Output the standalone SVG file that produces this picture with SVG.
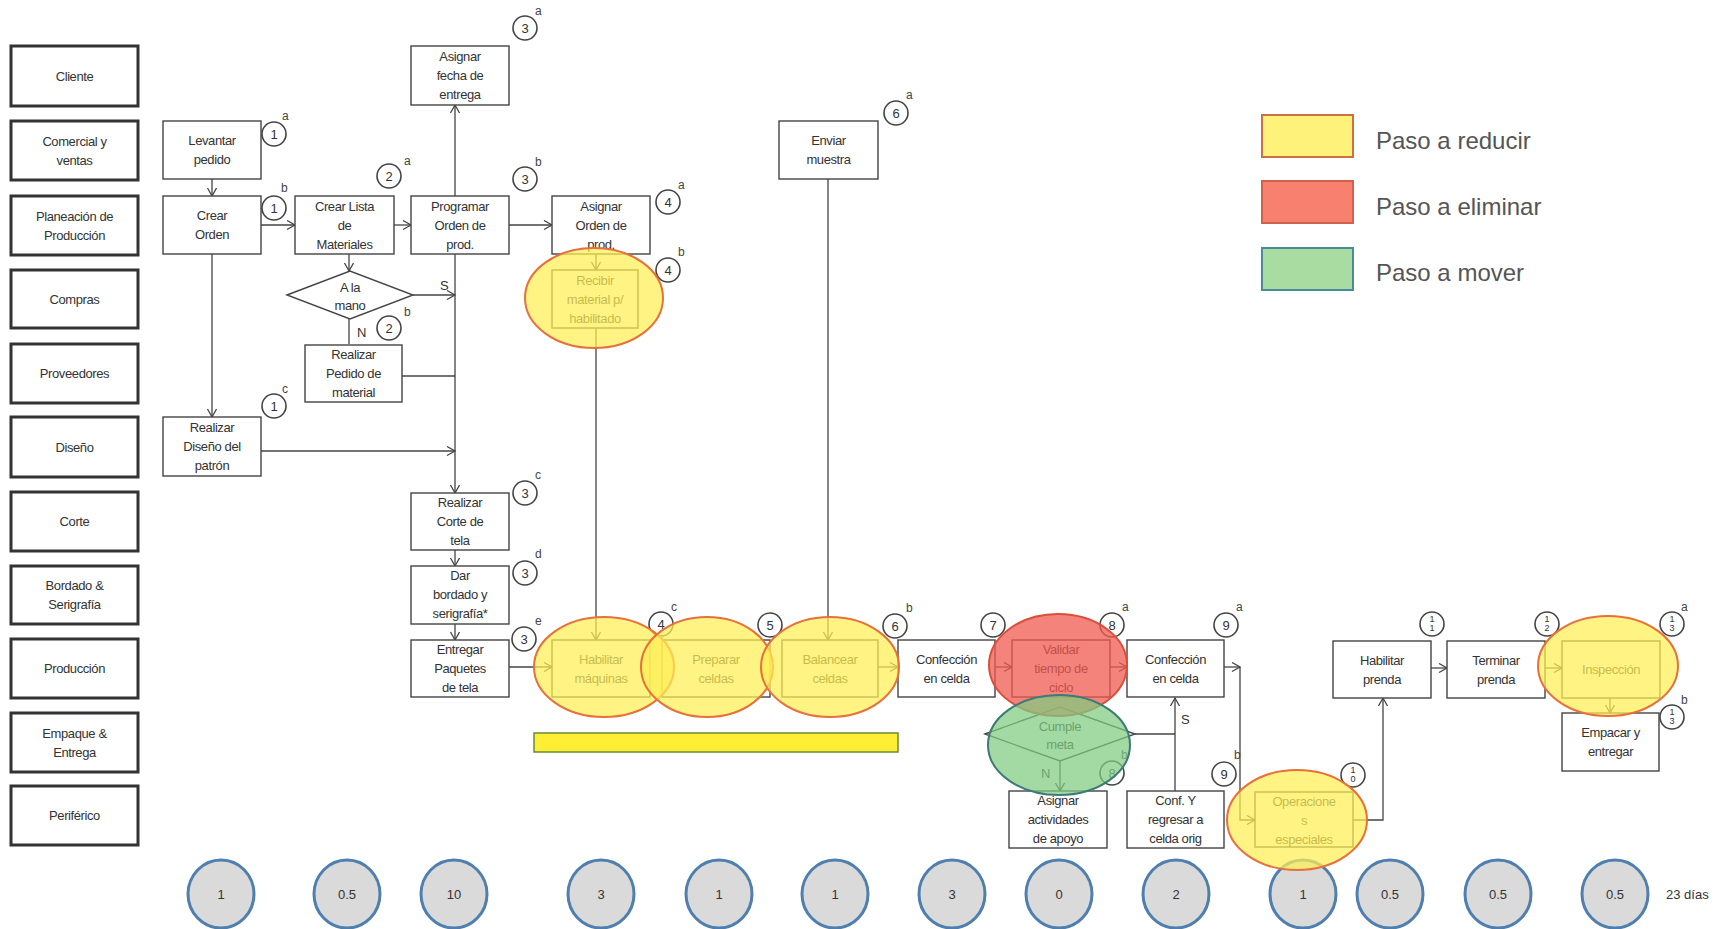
<svg xmlns="http://www.w3.org/2000/svg" width="1731" height="929" viewBox="0 0 1731 929">
<style>
text{font-family:"Liberation Sans",Arial,sans-serif;}
.lane rect{fill:#fff;stroke:#333;stroke-width:3;}
.lane text{font-size:13px;fill:#333;text-anchor:middle;letter-spacing:-0.4px;}
.box{fill:#fff;stroke:#444;stroke-width:1.4;}
.t{font-size:13px;fill:#333;text-anchor:middle;letter-spacing:-0.4px;}
.badge circle{fill:#fff;stroke:#444;stroke-width:1.6;}
.bn{font-size:13px;fill:#333;text-anchor:middle;}
.bs{font-size:9px;fill:#333;text-anchor:middle;}
.bl{font-size:12px;fill:#444;}
.lbl{font-size:13px;fill:#333;}
.yel{fill:#ffee55;fill-opacity:0.72;stroke:#e8703a;stroke-width:2;}
.red{fill:#f05a50;fill-opacity:0.75;stroke:#d8503a;stroke-width:2;}
.grn{fill:#7fcc80;fill-opacity:0.72;stroke:#3e7a78;stroke-width:2;}
.time ellipse{fill:#dadada;stroke:#4f7fae;stroke-width:3;}
.time text{font-size:13px;fill:#333;text-anchor:middle;}
.leg{font-size:24px;fill:#555;}
</style>
<defs>
<marker id="arr" markerUnits="userSpaceOnUse" markerWidth="12" markerHeight="12" refX="9" refY="5" orient="auto">
<path d="M1,0.5 L9,5 L1,9.5" fill="none" stroke="#444" stroke-width="1.3"/>
</marker>
</defs>
<rect width="1731" height="929" fill="#fff"/>

<g id="lanes">
<g id="lane-cliente" class="lane"><rect x="11" y="46" width="127" height="60"/><text x="74.5" y="81">Cliente</text></g>
<g id="lane-comercial" class="lane"><rect x="11" y="121" width="127" height="59"/><text x="74.5" y="146">Comercial y</text><text x="74.5" y="165">ventas</text></g>
<g id="lane-planeacion" class="lane"><rect x="11" y="196" width="127" height="59"/><text x="74.5" y="221">Planeación de</text><text x="74.5" y="240">Producción</text></g>
<g id="lane-compras" class="lane"><rect x="11" y="270" width="127" height="58"/><text x="74.5" y="304">Compras</text></g>
<g id="lane-proveedores" class="lane"><rect x="11" y="344" width="127" height="59"/><text x="74.5" y="378">Proveedores</text></g>
<g id="lane-diseno" class="lane"><rect x="11" y="417" width="127" height="60"/><text x="74.5" y="452">Diseño</text></g>
<g id="lane-corte" class="lane"><rect x="11" y="492" width="127" height="59"/><text x="74.5" y="526">Corte</text></g>
<g id="lane-bordado" class="lane"><rect x="11" y="566" width="127" height="58"/><text x="74.5" y="590">Bordado &amp;</text><text x="74.5" y="609">Serigrafía</text></g>
<g id="lane-produccion" class="lane"><rect x="11" y="639" width="127" height="59"/><text x="74.5" y="673">Producción</text></g>
<g id="lane-empaque" class="lane"><rect x="11" y="713" width="127" height="59"/><text x="74.5" y="738">Empaque &amp;</text><text x="74.5" y="757">Entrega</text></g>
<g id="lane-periferico" class="lane"><rect x="11" y="786" width="127" height="59"/><text x="74.5" y="820">Periférico</text></g>
</g>

<g id="connectors" fill="none" stroke="#444" stroke-width="1.3">
<path d="M212,179 V196" marker-end="url(#arr)"/>
<path d="M261,225 H295" marker-end="url(#arr)"/>
<path d="M394,225 H411" marker-end="url(#arr)"/>
<path d="M509,225 H552" marker-end="url(#arr)"/>
<path d="M455,196 V105" marker-end="url(#arr)"/>
<path d="M455,254 V493" marker-end="url(#arr)"/>
<path d="M349,254 V271" marker-end="url(#arr)"/>
<path d="M413,295 H455" marker-end="url(#arr)"/>
<path d="M349,319 V344"/>
<path d="M402,376 H455"/>
<path d="M212,254 V417" marker-end="url(#arr)"/>
<path d="M261,451 H455" marker-end="url(#arr)"/>
<path d="M455,550 V566" marker-end="url(#arr)"/>
<path d="M455,624 V640" marker-end="url(#arr)"/>
<path d="M509,667 H552" marker-end="url(#arr)"/>
<path d="M596,254 V270" marker-end="url(#arr)"/>
<path d="M596,328 V640" marker-end="url(#arr)"/>
<path d="M828,179 V640" marker-end="url(#arr)"/>
<path d="M878,667 H898" marker-end="url(#arr)"/>
<path d="M995,667 H1012" marker-end="url(#arr)"/>
<path d="M1110,667 H1127" marker-end="url(#arr)"/>
<path d="M1135,734 H1175"/>
<path d="M1175,791 V698" marker-end="url(#arr)"/>
<path d="M1060,761 V791" marker-end="url(#arr)"/>
<path d="M1224,667 H1240" marker-end="url(#arr)"/>
<path d="M1240,667 V820 H1255" marker-end="url(#arr)"/>
<path d="M1353,820 H1383 V698" marker-end="url(#arr)"/>
<path d="M1431,668 H1447" marker-end="url(#arr)"/>
<path d="M1545,668 H1562" marker-end="url(#arr)"/>
<path d="M1610,698 V713" marker-end="url(#arr)"/>
</g>
<g id="connector-labels">
<text class="lbl" x="440" y="290">S</text>
<text class="lbl" x="357" y="337">N</text>
<text class="lbl" x="1181" y="724">S</text>
<text class="lbl" x="1041" y="778">N</text>
</g>

<g id="nodes">
<g id="n-levantar"><rect class="box" x="163" y="121" width="98" height="58"/><text class="t" x="212" y="145">Levantar</text><text class="t" x="212" y="164">pedido</text></g>
<g id="n-crear-orden"><rect class="box" x="163" y="196" width="98" height="58"/><text class="t" x="212" y="220">Crear</text><text class="t" x="212" y="239">Orden</text></g>
<g id="n-crear-lista"><rect class="box" x="295" y="196" width="99" height="58"/><text class="t" x="344.5" y="211">Crear Lista</text><text class="t" x="344.5" y="230">de</text><text class="t" x="344.5" y="249">Materiales</text></g>
<g id="n-programar"><rect class="box" x="411" y="196" width="98" height="58"/><text class="t" x="460" y="211">Programar</text><text class="t" x="460" y="230">Orden de</text><text class="t" x="460" y="249">prod.</text></g>
<g id="n-fecha"><rect class="box" x="411" y="46" width="98" height="59"/><text class="t" x="460" y="61">Asignar</text><text class="t" x="460" y="80">fecha de</text><text class="t" x="460" y="99">entrega</text></g>
<g id="n-asignar-orden"><rect class="box" x="552" y="196" width="98" height="58"/><text class="t" x="601" y="211">Asignar</text><text class="t" x="601" y="230">Orden de</text><text class="t" x="601" y="249">prod.</text></g>
<g id="n-recibir"><rect class="box" x="552" y="270" width="86" height="58"/><text class="t" x="595" y="285">Recibir</text><text class="t" x="595" y="304">material p/</text><text class="t" x="595" y="323">habilitado</text></g>
<g id="n-enviar"><rect class="box" x="779" y="121" width="99" height="58"/><text class="t" x="828.5" y="145">Enviar</text><text class="t" x="828.5" y="164">muestra</text></g>
<g id="n-alamano"><polygon class="box" points="287,295 350,271 413,295 350,319"/><text class="t" x="350" y="292">A la</text><text class="t" x="350" y="310">mano</text></g>
<g id="n-pedido"><rect class="box" x="305" y="345" width="97" height="57"/><text class="t" x="353.5" y="359">Realizar</text><text class="t" x="353.5" y="378">Pedido de</text><text class="t" x="353.5" y="397">material</text></g>
<g id="n-diseno"><rect class="box" x="163" y="417" width="98" height="59"/><text class="t" x="212" y="432">Realizar</text><text class="t" x="212" y="451">Diseño del</text><text class="t" x="212" y="470">patrón</text></g>
<g id="n-corte"><rect class="box" x="411" y="493" width="98" height="57"/><text class="t" x="460" y="507">Realizar</text><text class="t" x="460" y="526">Corte de</text><text class="t" x="460" y="545">tela</text></g>
<g id="n-bordado"><rect class="box" x="411" y="566" width="98" height="58"/><text class="t" x="460" y="580">Dar</text><text class="t" x="460" y="599">bordado y</text><text class="t" x="460" y="618">serigrafía*</text></g>
<g id="n-entregar"><rect class="box" x="411" y="640" width="98" height="57"/><text class="t" x="460" y="654">Entregar</text><text class="t" x="460" y="673">Paquetes</text><text class="t" x="460" y="692">de tela</text></g>
<g id="n-habilitar-maq"><rect class="box" x="552" y="640" width="98" height="57"/><text class="t" x="601" y="664">Habilitar</text><text class="t" x="601" y="683">máquinas</text></g>
<g id="n-preparar"><rect class="box" x="662" y="640" width="108" height="57"/><text class="t" x="716" y="664">Preparar</text><text class="t" x="716" y="683">celdas</text></g>
<g id="n-balancear"><rect class="box" x="782" y="640" width="96" height="57"/><text class="t" x="830" y="664">Balancear</text><text class="t" x="830" y="683">celdas</text></g>
<g id="n-confeccion1"><rect class="box" x="898" y="640" width="97" height="57"/><text class="t" x="946.5" y="664">Confección</text><text class="t" x="946.5" y="683">en celda</text></g>
<g id="n-validar"><rect class="box" x="1012" y="640" width="98" height="57"/><text class="t" x="1061" y="654">Validar</text><text class="t" x="1061" y="673">tiempo de</text><text class="t" x="1061" y="692">ciclo</text></g>
<g id="n-confeccion2"><rect class="box" x="1127" y="640" width="97" height="57"/><text class="t" x="1175.5" y="664">Confección</text><text class="t" x="1175.5" y="683">en celda</text></g>
<g id="n-cumple"><polygon class="box" points="985,734 1060,707 1135,734 1060,761"/><text class="t" x="1060" y="731">Cumple</text><text class="t" x="1060" y="749">meta</text></g>
<g id="n-asignar-act"><rect class="box" x="1009" y="791" width="98" height="57"/><text class="t" x="1058" y="805">Asignar</text><text class="t" x="1058" y="824">actividades</text><text class="t" x="1058" y="843">de apoyo</text></g>
<g id="n-conf-y"><rect class="box" x="1127" y="791" width="97" height="57"/><text class="t" x="1175.5" y="805">Conf. Y</text><text class="t" x="1175.5" y="824">regresar a</text><text class="t" x="1175.5" y="843">celda orig</text></g>
<g id="n-operaciones"><rect class="box" x="1255" y="792" width="98" height="55"/><text class="t" x="1304" y="806">Operacione</text><text class="t" x="1304" y="825">s</text><text class="t" x="1304" y="844">especiales</text></g>
<g id="n-habilitar-prenda"><rect class="box" x="1333" y="641" width="98" height="57"/><text class="t" x="1382" y="665">Habilitar</text><text class="t" x="1382" y="684">prenda</text></g>
<g id="n-terminar"><rect class="box" x="1447" y="641" width="98" height="57"/><text class="t" x="1496" y="665">Terminar</text><text class="t" x="1496" y="684">prenda</text></g>
<g id="n-inspeccion"><rect class="box" x="1562" y="641" width="98" height="57"/><text class="t" x="1611" y="674">Inspección</text></g>
<g id="n-empacar"><rect class="box" x="1562" y="713" width="97" height="58"/><text class="t" x="1610.5" y="737">Empacar y</text><text class="t" x="1610.5" y="756">entregar</text></g>
</g>

<g id="badges">
<g class="badge"><circle cx="274" cy="134" r="12"/><text class="bn" x="274" y="139">1</text><text class="bl" x="282" y="120">a</text></g>
<g class="badge"><circle cx="274" cy="208" r="12"/><text class="bn" x="274" y="213">1</text><text class="bl" x="281" y="192">b</text></g>
<g class="badge"><circle cx="274" cy="406" r="12"/><text class="bn" x="274" y="411">1</text><text class="bl" x="282" y="393">c</text></g>
<g class="badge"><circle cx="389" cy="176" r="12"/><text class="bn" x="389" y="181">2</text><text class="bl" x="404" y="165">a</text></g>
<g class="badge"><circle cx="389" cy="328" r="12"/><text class="bn" x="389" y="333">2</text><text class="bl" x="404" y="316">b</text></g>
<g class="badge"><circle cx="525" cy="28" r="12"/><text class="bn" x="525" y="33">3</text><text class="bl" x="535" y="15">a</text></g>
<g class="badge"><circle cx="525" cy="179" r="12"/><text class="bn" x="525" y="184">3</text><text class="bl" x="535" y="166">b</text></g>
<g class="badge"><circle cx="525" cy="493" r="12"/><text class="bn" x="525" y="498">3</text><text class="bl" x="535" y="479">c</text></g>
<g class="badge"><circle cx="525" cy="573" r="12"/><text class="bn" x="525" y="578">3</text><text class="bl" x="535" y="558">d</text></g>
<g class="badge"><circle cx="524" cy="639" r="12"/><text class="bn" x="524" y="644">3</text><text class="bl" x="535" y="625">e</text></g>
<g class="badge"><circle cx="668" cy="202" r="12"/><text class="bn" x="668" y="207">4</text><text class="bl" x="678" y="189">a</text></g>
<g class="badge"><circle cx="668" cy="270" r="12"/><text class="bn" x="668" y="275">4</text><text class="bl" x="678" y="256">b</text></g>
<g class="badge"><circle cx="661" cy="624" r="12"/><text class="bn" x="661" y="629">4</text><text class="bl" x="671" y="611">c</text></g>
<g class="badge"><circle cx="770" cy="625" r="12"/><text class="bn" x="770" y="630">5</text></g>
<g class="badge"><circle cx="896" cy="113" r="12"/><text class="bn" x="896" y="118">6</text><text class="bl" x="906" y="99">a</text></g>
<g class="badge"><circle cx="895" cy="626" r="12"/><text class="bn" x="895" y="631">6</text><text class="bl" x="906" y="612">b</text></g>
<g class="badge"><circle cx="993" cy="625" r="12"/><text class="bn" x="993" y="630">7</text></g>
<g class="badge"><circle cx="1112" cy="625" r="12"/><text class="bn" x="1112" y="630">8</text><text class="bl" x="1122" y="611">a</text></g>
<g class="badge"><circle cx="1112" cy="773" r="12"/><text class="bn" x="1112" y="778">8</text><text class="bl" x="1121" y="759">b</text></g>
<g class="badge"><circle cx="1226" cy="625" r="12"/><text class="bn" x="1226" y="630">9</text><text class="bl" x="1236" y="611">a</text></g>
<g class="badge"><circle cx="1224" cy="774" r="12"/><text class="bn" x="1224" y="779">9</text><text class="bl" x="1234" y="759">b</text></g>
<g class="badge"><circle cx="1353" cy="775" r="12"/><text class="bs" x="1353" y="773">1</text><text class="bs" x="1353" y="782">0</text></g>
<g class="badge"><circle cx="1432" cy="624" r="12"/><text class="bs" x="1432" y="622">1</text><text class="bs" x="1432" y="631">1</text></g>
<g class="badge"><circle cx="1547" cy="624" r="12"/><text class="bs" x="1547" y="622">1</text><text class="bs" x="1547" y="631">2</text></g>
<g class="badge"><circle cx="1672" cy="624" r="12"/><text class="bs" x="1672" y="622">1</text><text class="bs" x="1672" y="631">3</text><text class="bl" x="1681" y="611">a</text></g>
<g class="badge"><circle cx="1672" cy="717" r="12"/><text class="bs" x="1672" y="715">1</text><text class="bs" x="1672" y="724">3</text><text class="bl" x="1681" y="704">b</text></g>
</g>

<g id="time-circles" class="time">
<ellipse cx="221" cy="894" rx="33" ry="34"/><text x="221" y="899">1</text>
<ellipse cx="347" cy="894" rx="33" ry="34"/><text x="347" y="899">0.5</text>
<ellipse cx="454" cy="894" rx="33" ry="34"/><text x="454" y="899">10</text>
<ellipse cx="601" cy="894" rx="33" ry="34"/><text x="601" y="899">3</text>
<ellipse cx="719" cy="894" rx="33" ry="34"/><text x="719" y="899">1</text>
<ellipse cx="835" cy="894" rx="33" ry="34"/><text x="835" y="899">1</text>
<ellipse cx="952" cy="894" rx="33" ry="34"/><text x="952" y="899">3</text>
<ellipse cx="1059" cy="894" rx="33" ry="34"/><text x="1059" y="899">0</text>
<ellipse cx="1176" cy="894" rx="33" ry="34"/><text x="1176" y="899">2</text>
<ellipse cx="1303" cy="894" rx="33" ry="34"/><text x="1303" y="899">1</text>
<ellipse cx="1390" cy="894" rx="33" ry="34"/><text x="1390" y="899">0.5</text>
<ellipse cx="1498" cy="894" rx="33" ry="34"/><text x="1498" y="899">0.5</text>
<ellipse cx="1615" cy="894" rx="33" ry="34"/><text x="1615" y="899">0.5</text>
</g>
<text id="total" x="1666" y="899" class="lbl">23 días</text>

<g id="highlights">
<ellipse class="yel" cx="594" cy="298" rx="69" ry="50"/>
<ellipse class="yel" cx="604" cy="667" rx="70" ry="50"/>
<ellipse class="yel" cx="707" cy="667" rx="66" ry="50"/>
<ellipse class="yel" cx="830" cy="667" rx="69" ry="50"/>
<ellipse class="red" cx="1058" cy="665" rx="69" ry="51"/>
<ellipse class="grn" cx="1059" cy="745" rx="71" ry="50"/>
<ellipse class="yel" cx="1297" cy="820" rx="70" ry="50"/>
<ellipse class="yel" cx="1608" cy="666" rx="70" ry="50"/>
<rect x="534" y="733" width="364" height="19" fill="#ffee33" stroke="#6a8a3a" stroke-width="1.5"/>
</g>

<g id="legend">
<rect x="1262" y="115" width="91" height="42" fill="#fff27a" stroke="#d07040" stroke-width="2"/>
<text class="leg" x="1376" y="149">Paso a reducir</text>
<rect x="1262" y="181" width="91" height="42" fill="#f8806e" stroke="#d06050" stroke-width="2"/>
<text class="leg" x="1376" y="215">Paso a eliminar</text>
<rect x="1262" y="248" width="91" height="42" fill="#a8dca0" stroke="#4a8a9a" stroke-width="2"/>
<text class="leg" x="1376" y="281">Paso a mover</text>
</g>
</svg>
